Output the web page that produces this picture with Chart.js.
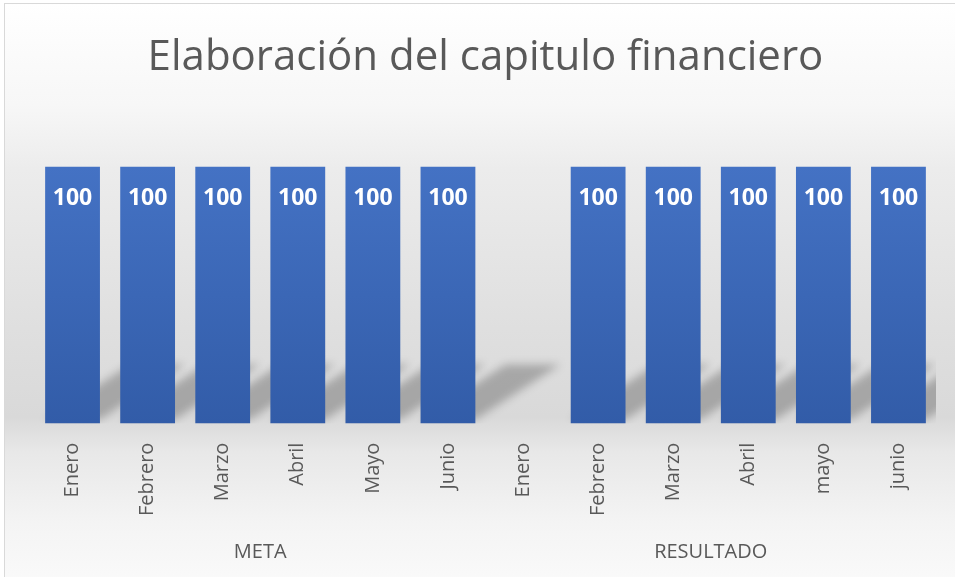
<!DOCTYPE html>
<html>
<head>
<meta charset="utf-8">
<script src="https://cdn.jsdelivr.net/npm/chart.js@4"></script>
<style>
html,body{margin:0;padding:0;background:#fff;overflow:hidden;}
#frame{
position:absolute;left:4px;top:3px;width:970px;height:590px;
border:1px solid #d9d9d9;
background:linear-gradient(to bottom,#ffffff 0%,#f7f7f7 17%,#ececec 28%,#dfdfdf 55%,#d9d9d9 70%,#e8e8e8 76%,#f4f4f4 88%,#fbfbfb 100%);
}
#wrap{position:absolute;left:0;top:0;width:955px;height:577px;}
</style>
</head>
<body>
<div id="frame"></div>
<div id="wrap"><canvas id="chart" width="955" height="577"></canvas></div>
<script>
// datos
const categories = ["Enero","Febrero","Marzo","Abril","Mayo","Junio","Enero","Febrero","Marzo","Abril","mayo","junio"];
const values = [100,100,100,100,100,100,null,100,100,100,100,100];
const groups = ["META","RESULTADO"];

const textColor = "#595959";

/* sombra en perspectiva detras de cada barra */
const barShadow = {
id:"barShadow",
beforeDatasetsDraw(chart){
const ctx = chart.ctx;
const area = chart.chartArea;
const meta = chart.getDatasetMeta(0);
ctx.save();
ctx.beginPath();
ctx.rect(area.left, area.top, area.right - area.left, area.bottom - area.top);
ctx.clip();
ctx.filter = "blur(4px)";
ctx.fillStyle = "rgba(0,0,0,0.24)";
meta.data.forEach((bar,i)=>{
if(values[i] == null) return;
const w = bar.width/2;
const h = (bar.base - bar.y) * 0.23;
const sx = 85;
ctx.beginPath();
ctx.moveTo(bar.x - w, bar.base - 4);
ctx.lineTo(bar.x + w, bar.base - 4);
ctx.lineTo(bar.x + w + sx, bar.base - h);
ctx.lineTo(bar.x - w + sx, bar.base - h);
ctx.closePath();
ctx.fill();
});
ctx.restore();
}
};

/* etiquetas de valor dentro de la barra */
const barLabels = {
id:"barLabels",
afterDatasetsDraw(chart){
const ctx = chart.ctx;
const meta = chart.getDatasetMeta(0);
ctx.save();
ctx.fillStyle = "#ffffff";
ctx.font = "bold 23px 'Open Sans'";
ctx.textAlign = "center";
ctx.textBaseline = "middle";
meta.data.forEach((bar,i)=>{
if(values[i] == null) return;
ctx.fillText(String(values[i]), bar.x, bar.y + 32);
});
ctx.restore();
}
};

new Chart(document.getElementById("chart"),{
type:"bar",
data:{
labels:categories,
datasets:[{
data:values,
backgroundColor:(c)=>{
const area = c.chart.chartArea;
if(!area) return "#4472c4";
const g = c.chart.ctx.createLinearGradient(0, area.top, 0, area.bottom);
g.addColorStop(0, "#4472c4");
g.addColorStop(1, "#325ca8");
return g;
},
borderWidth:0,
barPercentage:0.73,
categoryPercentage:1
}]
},
options:{
responsive:false,
animation:false,
layout:{padding:{left:35,right:19,top:33,bottom:8}},
plugins:{
legend:{display:false},
tooltip:{enabled:false},
title:{
display:true,
text:"Elaboración del capitulo financiero",
color:textColor,
font:{family:"'Open Sans'",size:42,weight:"normal"},
padding:{top:0,bottom:83}
}
},
scales:{
x:{
grid:{display:false},
border:{display:false},
ticks:{
color:textColor,
font:{family:"'Open Sans'",size:20},
minRotation:90,
maxRotation:90,
padding:11,
autoSkip:false
}
},
x2:{
type:"category",
labels:groups,
position:"bottom",
offset:true,
weight:1,
grid:{display:false},
border:{display:false},
ticks:{
color:textColor,
font:{family:"'Open Sans'",size:20},
maxRotation:0,
padding:5
}
},
y:{
display:false,
min:0,
max:100
}
}
},
plugins:[barShadow,barLabels]
});
</script>
</body>
</html>
